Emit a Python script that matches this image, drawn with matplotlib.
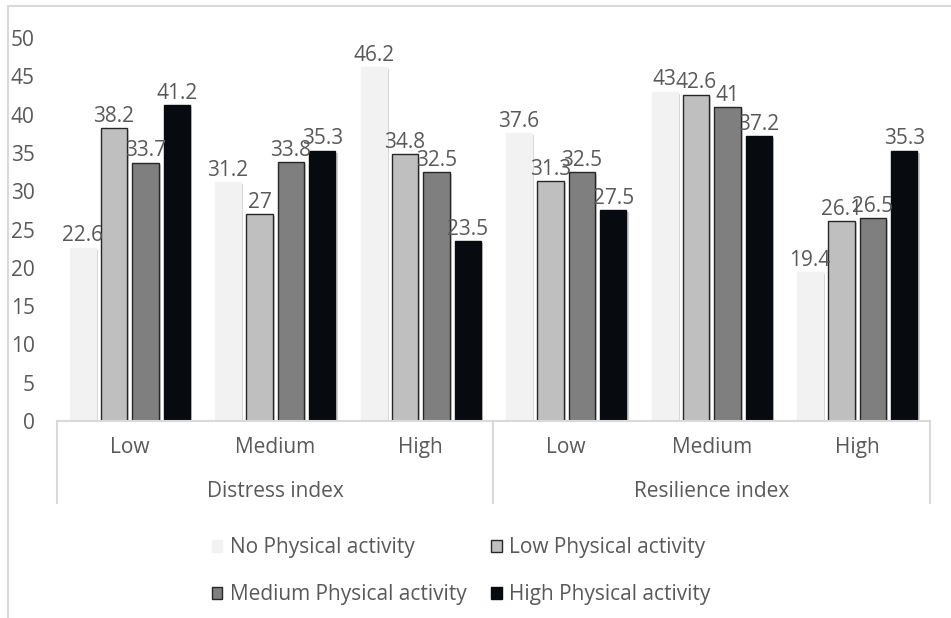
import numpy as np
import matplotlib.pyplot as plt
import matplotlib.patheffects as pe

plt.rcParams['font.family'] = ['Open Sans', 'DejaVu Sans']

groups = ['Low', 'Medium', 'High', 'Low', 'Medium', 'High']
indices = ['Distress index', 'Resilience index']
series = ['No Physical activity', 'Low Physical activity',
          'Medium Physical activity', 'High Physical activity']
no_pa = [22.6, 31.2, 46.2, 37.6, 43, 19.4]
low_pa = [38.2, 27, 34.8, 31.3, 42.6, 26.1]
med_pa = [33.7, 33.8, 32.5, 32.5, 41, 26.5]
high_pa = [41.2, 35.3, 23.5, 27.5, 37.2, 35.3]
values = [no_pa, low_pa, med_pa, high_pa]

colors = ['#f2f2f2', '#bfbfbf', '#7f7f7f', '#070a0e']
edges = ['#f2f2f2', '#262626', '#262626', '#070a0e']
txt = '#595959'
axis_col = '#d9d9d9'
fs = 15

fig = plt.figure(figsize=(9.51, 6.18), dpi=100)
ax = fig.add_axes([57 / 951, 1 - 421 / 618, 873 / 951, 383 / 618])

# chart border (top and left visible)
fig.add_artist(plt.Line2D([8 / 951, 8 / 951], [0, 1 - 6 / 618], color=axis_col, lw=1.5))
fig.add_artist(plt.Line2D([8 / 951, 1], [1 - 6 / 618, 1 - 6 / 618], color=axis_col, lw=1.5))

x = np.arange(len(groups))
w = 0.18
step = 0.216
shadow = [pe.SimplePatchShadow(offset=(1.5, -1.5), shadow_rgbFace='#000000', alpha=0.18), pe.Normal()]
handles = []
for i, vals in enumerate(values):
    pos = x + (i - 1.5) * step
    bars = ax.bar(pos, vals, w, color=colors[i], edgecolor=edges[i], linewidth=1,
                  label=series[i], zorder=2)
    handles.append(bars)
    for b in bars:
        b.set_path_effects(shadow)
    for p, v in zip(pos, vals):
        ax.annotate(f'{v:g}', (p, v), xytext=(0, 1), textcoords='offset points',
                    ha='center', va='bottom', fontsize=fs, color=txt, zorder=3)

ax.set_xlim(-0.5, len(groups) - 0.5)
ax.set_ylim(0, 50)
ax.set_yticks(np.arange(0, 51, 5))
ax.tick_params(axis='y', length=0, pad=16, labelsize=fs, labelcolor=txt)
ax.set_xticks([])
for s in ['top', 'right', 'left']:
    ax.spines[s].set_visible(False)
ax.spines['bottom'].set_color(axis_col)
ax.spines['bottom'].set_linewidth(1.5)

# multi-level category axis
for gx, g in zip(x, groups):
    ax.text(gx, -0.07, g, transform=ax.get_xaxis_transform(), ha='center', va='center',
            fontsize=fs, color=txt)
for k, name in enumerate(indices):
    ax.text(1 + 3 * k, -0.183, name, transform=ax.get_xaxis_transform(), ha='center',
            va='center', fontsize=fs, color=txt)
for sx in [-0.5, 2.5, 5.5]:
    ax.plot([sx, sx], [0, -0.214], transform=ax.get_xaxis_transform(), color=axis_col,
            lw=1.5, clip_on=False)

# legend laid out row-wise like the original
order = [0, 2, 1, 3]
leg = ax.legend([handles[i] for i in order], [series[i] for i in order],
                loc='center', bbox_to_anchor=(0.463, -0.392), ncol=2, frameon=False,
                fontsize=fs, labelcolor=txt, handlelength=0.5, handleheight=0.5,
                handletextpad=0.35, columnspacing=1.2, labelspacing=1.25)
for h in leg.legend_handles:
    h.set_path_effects([])

fig.savefig('out.png', dpi=100)
